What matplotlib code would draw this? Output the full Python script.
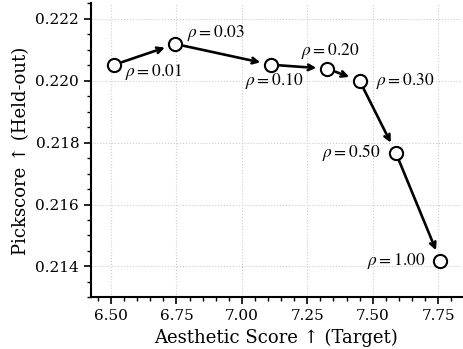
import matplotlib
matplotlib.use('Agg')
import matplotlib.pyplot as plt
from matplotlib.ticker import MultipleLocator

# Aesthetic score (target) vs pickscore (held-out) for each rho
rhos = ['0.01', '0.03', '0.10', '0.20', '0.30', '0.50', '1.00']
aesthetic = [6.512, 6.746, 7.112, 7.327, 7.450, 7.588, 7.758]
pickscore = [0.22052, 0.22119, 0.22052, 0.22039, 0.22000, 0.21768, 0.21419]

# label placement per point: (dx, dy) in points, ha
label_pos = [(8, -5, 'left'), (8, 8, 'left'), (2, -12, 'center'),
             (2, 13, 'center'), (12, 0, 'left'), (-11, 0, 'right'),
             (-11, 0, 'right')]

plt.rcParams['font.family'] = 'DejaVu Serif'
plt.rcParams['mathtext.fontset'] = 'stix'

fig, ax = plt.subplots(figsize=(4.64, 3.49), dpi=100)

for i in range(len(rhos) - 1):
    ax.annotate('', xy=(aesthetic[i + 1], pickscore[i + 1]),
                xytext=(aesthetic[i], pickscore[i]),
                arrowprops=dict(arrowstyle='->', color='black', lw=1.9,
                                shrinkA=6, shrinkB=8), zorder=2)

ax.plot(aesthetic, pickscore, 'o', linestyle='none', markersize=9.5,
        markerfacecolor='white', markeredgecolor='black',
        markeredgewidth=1.5, zorder=3)

for r, x, y, (dx, dy, ha) in zip(rhos, aesthetic, pickscore, label_pos):
    ax.annotate(r'$\rho=' + r + r'$', xy=(x, y), xytext=(dx, dy),
                textcoords='offset points', ha=ha, va='center', fontsize=12.5)

ax.set_xlim(6.423, 7.84)
ax.set_ylim(0.2130, 0.2225)
ax.xaxis.set_major_locator(MultipleLocator(0.25))
ax.xaxis.set_minor_locator(MultipleLocator(0.05))
ax.yaxis.set_major_locator(MultipleLocator(0.002))
ax.yaxis.set_minor_locator(MultipleLocator(0.0005))
ax.xaxis.set_major_formatter(plt.FormatStrFormatter('%.2f'))
ax.yaxis.set_major_formatter(plt.FormatStrFormatter('%.3f'))

ax.grid(True, which='major', linestyle=':', color='#cccccc', linewidth=0.8)
ax.set_axisbelow(True)
for s in ['top', 'right']:
    ax.spines[s].set_visible(False)
for s in ['left', 'bottom']:
    ax.spines[s].set_linewidth(1.5)
ax.tick_params(which='major', length=5, width=1.2, labelsize=11)
ax.tick_params(which='minor', length=3, width=1.0)

ax.set_xlabel('Aesthetic Score ↑ (Target)', fontsize=13)
ax.set_ylabel('Pickscore ↑ (Held-out)', fontsize=13)

fig.subplots_adjust(left=0.196, right=0.995, bottom=0.148, top=0.99)
fig.savefig('out.png', dpi=100)
